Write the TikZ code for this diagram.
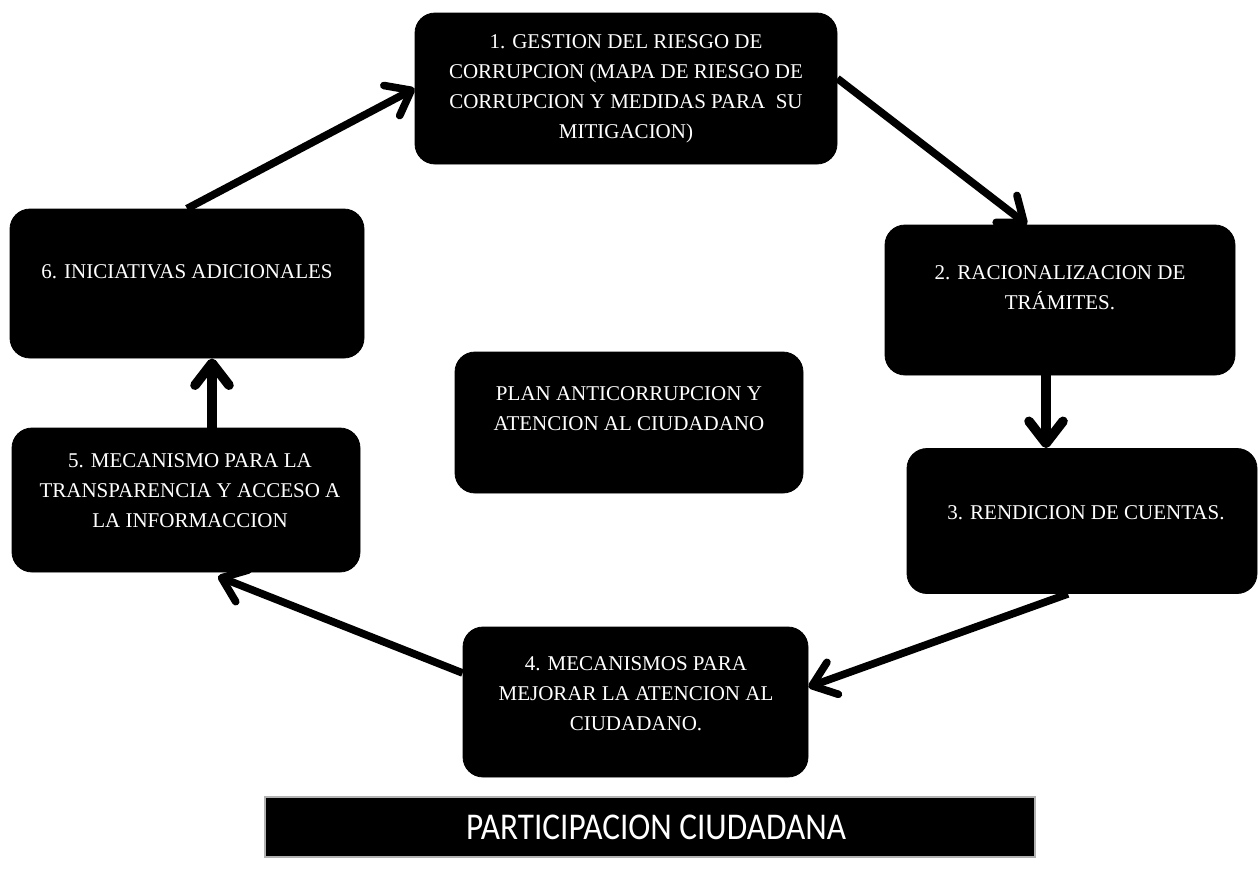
\documentclass[tikz,border=0pt]{standalone}
\usepackage{fontspec}
\setmainfont{Liberation Serif}
\newfontfamily\barfont{Carlito}
\usetikzlibrary{arrows.meta}
\begin{document}
\begin{tikzpicture}[x=0.5pt,y=-0.5pt,
  box/.style={fill=black, draw=black, rounded corners=10pt, inner sep=0pt},
  txt/.style={text=white, align=center, font=\fontsize{10.5}{15}\selectfont, inner sep=0pt},
  conn/.style={draw=black, line width=3.8pt, -{Straight Barb[length=11pt,width=17pt,round]}},
  vconn/.style={conn, line width=4.8pt},
  barbox/.style={fill=black, draw=gray!60, line width=0.8pt, inner sep=0pt},
  bartxt/.style={text=white, font=\barfont\fontsize{17.5}{20}\selectfont, inner sep=0pt}
]
\useasboundingbox (0,0) rectangle (1258,884);

% boxes
\node[box, minimum width=211pt, minimum height=75.5pt] (b1) at (626,88.5) {};
\node[box, minimum width=175pt, minimum height=75pt] (b2) at (1060,300) {};
\node[box, minimum width=175pt, minimum height=72.5pt] (b3) at (1082,521) {};
\node[box, minimum width=172.5pt, minimum height=75pt] (b4) at (635.5,702) {};
\node[box, minimum width=174pt, minimum height=72pt] (b5) at (186,500) {};
\node[box, minimum width=177pt, minimum height=74.5pt] (b6) at (187,283.5) {};
\node[box, minimum width=174pt, minimum height=70.5pt] (bc) at (629,422.5) {};
\node[barbox, minimum width=385pt, minimum height=30pt] (bar) at (650,827) {};

% texts
\node[txt] (t1) at (626,89) {1. GESTION DEL RIESGO DE\\CORRUPCION (MAPA DE RIESGO DE\\CORRUPCION Y MEDIDAS PARA\ \ SU\\MITIGACION)};
\node[txt] (t2) at (1060,288) {2. RACIONALIZACION DE\\TRÁMITES.};
\node[txt] (t3) at (1086,513) {3. RENDICION DE CUENTAS.};
\node[txt] (t4) at (636,694) {4. MECANISMOS PARA\\MEJORAR LA ATENCION AL\\CIUDADANO.};
\node[txt] (t5) at (190,491) {5. MECANISMO PARA LA\\TRANSPARENCIA Y ACCESO A\\LA INFORMACCION};
\node[txt] (t6) at (187,272) {6. INICIATIVAS ADICIONALES};
\node[txt] (tc) at (629,409) {PLAN ANTICORRUPCION Y\\ATENCION AL CIUDADANO};
\node[bartxt] (tbar) at (656,827) {\scalebox{0.95}[1.08]{PARTICIPACION CIUDADANA}};

% connectors
\draw[conn] (b6.north) -- (b1.west);
\draw[conn] ([yshift=5pt]b1.east) -- ([xshift=-16.5pt]b2.north);
\draw[vconn] ([xshift=-7pt]b2.south) -- ([xshift=-7pt]b2.south |- b3.north);
\draw[conn] ([xshift=-7pt]b3.south) -- ([yshift=7.5pt]b4.east);
\draw[conn] ([yshift=14.5pt]b4.west) -- ([xshift=16pt,yshift=-2pt]b5.south);
\draw[vconn] ([xshift=13pt]b5.north) -- ([xshift=13pt]b5.north |- b6.south);
\end{tikzpicture}
\end{document}
